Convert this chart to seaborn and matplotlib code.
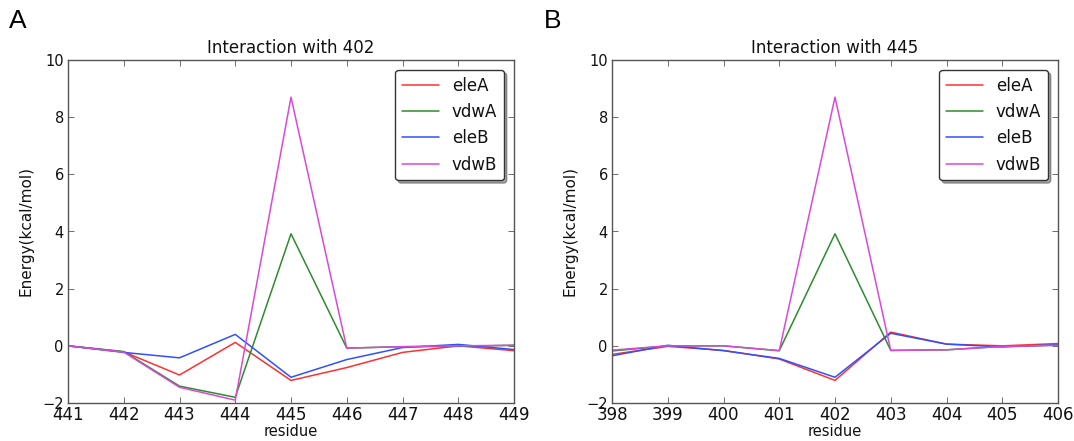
import numpy as np
import pandas as pd
import matplotlib
matplotlib.use("Agg")
import matplotlib.pyplot as plt
import seaborn as sns

# ---- data ----
series_names = ["eleA", "vdwA", "eleB", "vdwB"]

residues_A = [441, 442, 443, 444, 445, 446, 447, 448, 449]
eleA_A = [0.0, -0.21, -1.02, 0.12, -1.21, -0.76, -0.23, 0.0, -0.17]
vdwA_A = [0.0, -0.20, -1.41, -1.80, 3.92, -0.08, -0.03, -0.02, 0.02]
eleB_A = [0.0, -0.23, -0.42, 0.40, -1.10, -0.48, -0.06, 0.05, -0.13]
vdwB_A = [0.0, -0.22, -1.45, -1.90, 8.70, -0.08, -0.03, 0.0, 0.02]

residues_B = [398, 399, 400, 401, 402, 403, 404, 405, 406]
eleA_B = [-0.30, -0.02, -0.16, -0.46, -1.21, 0.48, 0.06, 0.0, 0.08]
vdwA_B = [-0.18, 0.0, 0.0, -0.17, 3.92, -0.16, -0.14, -0.02, 0.02]
eleB_B = [-0.35, 0.02, -0.17, -0.44, -1.10, 0.44, 0.06, -0.04, 0.04]
vdwB_B = [-0.15, 0.0, 0.0, -0.17, 8.70, -0.16, -0.14, -0.02, 0.02]

titles = ["Interaction with 402", "Interaction with 445"]
panel_labels = ["A", "B"]
yticks = [-2, 0, 2, 4, 6, 8, 10]

palette = {"eleA": "#ff3030", "vdwA": "#2e8b2e", "eleB": "#3050ff", "vdwB": "#d84ad8"}


def to_long(res, arrays):
    rows = []
    for name, vals in zip(series_names, arrays):
        for r, v in zip(res, vals):
            rows.append({"residue": r, "energy": v, "series": name})
    return pd.DataFrame(rows)


dfA = to_long(residues_A, [eleA_A, vdwA_A, eleB_A, vdwB_A])
dfB = to_long(residues_B, [eleA_B, vdwA_B, eleB_B, vdwB_B])

sns.set_style("ticks")
plt.rcParams["font.family"] = ["DejaVu Sans"]
plt.rcParams["text.color"] = "#111111"
plt.rcParams["axes.labelcolor"] = "#111111"
plt.rcParams["xtick.labelcolor"] = "#111111"
plt.rcParams["ytick.labelcolor"] = "#111111"

fig = plt.figure(figsize=(10.74, 4.41), dpi=100)
W, H = 1074, 441
axA = fig.add_axes([68 / W, (H - 403) / H, 446 / W, 343 / H])
axB = fig.add_axes([612 / W, (H - 403) / H, 446 / W, 343 / H])

for ax, df, res, title, plab, lx in [
    (axA, dfA, residues_A, titles[0], panel_labels[0], 9 / W),
    (axB, dfB, residues_B, titles[1], panel_labels[1], 544 / W),
]:
    sns.lineplot(data=df, x="residue", y="energy", hue="series",
                 hue_order=series_names, palette=palette, estimator=None,
                 sort=False, linewidth=1.1, ax=ax)
    ax.set_xlim(res[0], res[-1])
    ax.set_ylim(-2, 10)
    ax.set_xticks(res)
    ax.set_xticklabels([str(r) for r in res])
    ax.set_yticks(yticks)
    ax.set_title(title, fontsize=12, pad=5, color="#111111")
    ax.set_xlabel("residue", fontsize=10.5, labelpad=0)
    ax.set_ylabel("Energy(kcal/mol)", fontsize=11, labelpad=6)
    ax.tick_params(axis="both", direction="in", top=True, right=True,
                   length=4, width=0.6, color="#555555")
    ax.tick_params(axis="x", labelsize=12, pad=2)
    ax.tick_params(axis="y", labelsize=10.5, pad=3)
    for sp in ax.spines.values():
        sp.set_color("#555555")
        sp.set_linewidth(1.0)
    leg = ax.legend(loc="upper right", fancybox=True, shadow=True,
                    fontsize=12, handlelength=2.2, labelspacing=0.5,
                    borderaxespad=0.6, framealpha=1.0)
    leg.get_frame().set_edgecolor("#333333")
    for line in leg.get_lines():
        line.set_linewidth(1.1)
    fig.text(lx, 0.952, plab, fontsize=19, ha="left", va="center",
             color="black", family=["Liberation Sans", "DejaVu Sans"])

fig.savefig("out.png", dpi=100)
